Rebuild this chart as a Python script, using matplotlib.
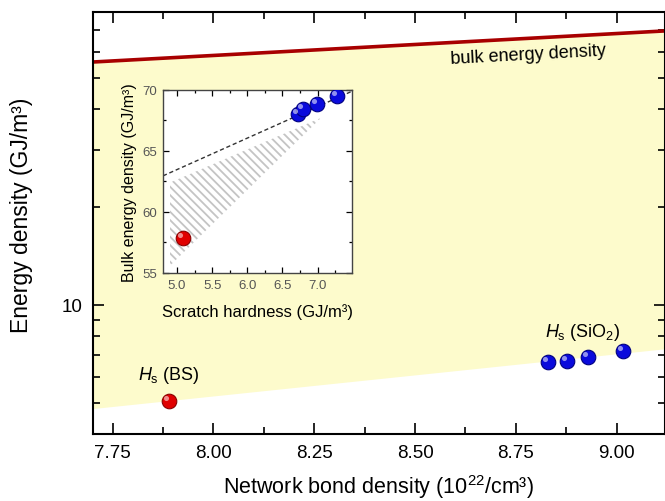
import matplotlib
matplotlib.use("Agg")
import matplotlib.pyplot as plt
import matplotlib.ticker as mticker
from matplotlib.transforms import offset_copy

plt.rcParams["font.family"] = ["Liberation Sans", "DejaVu Sans"]
plt.rcParams["mathtext.fontset"] = "custom"
plt.rcParams["mathtext.rm"] = "Liberation Sans"
plt.rcParams["mathtext.it"] = "Liberation Sans:italic"
plt.rcParams["hatch.linewidth"] = 1.3

# ------------- data ------------- #

# main panel: network bond density (1e22/cm^3) vs energy density (GJ/m^3)
bs_x = [7.89]
bs_y = [5.07]
sio2_x = [8.83, 8.876, 8.928, 9.015]
sio2_y = [6.68, 6.73, 6.92, 7.22]

bulk_x = [7.70, 9.12]
bulk_y = [55.9, 69.7]
lower_x = [7.70, 9.12]
lower_y = [4.79, 7.32]

# inset: scratch hardness vs bulk energy density
ins_bs_x = [5.08]
ins_bs_y = [57.9]
ins_sio2_x = [6.72, 6.79, 6.99, 7.28]
ins_sio2_y = [68.0, 68.4, 68.85, 69.5]
dash_x = [4.80, 7.5]
dash_y = [62.95, 69.9]
hatch_x = [4.90, 4.90, 7.05]
hatch_y = [62.4, 55.6, 67.7]

W, H = 665, 502
fig = plt.figure(figsize=(W / 100, H / 100), dpi=100)

# main axes, right spine sits on the image edge
ax = fig.add_axes([92.5 / W, 1 - 435 / H, (665 - 92.5) / W, (435 - 13) / H])
ax.set_yscale("log")
ax.set_xlim(7.70, 9.12)
ax.set_ylim(4.0, 79.7)

ax.fill_between(bulk_x, lower_y, bulk_y, color="#fdfbcc", lw=0, zorder=0)
ax.plot(bulk_x, bulk_y, color="#a80000", lw=2.6, zorder=2)


def sphere(a, xs, ys, color, edge, ms=10.5):
    a.plot(xs, ys, "o", ms=ms, color=color, mec=edge, mew=0.8, zorder=5)
    hl = offset_copy(a.transData, fig=fig, x=-2.2, y=2.2, units="points")
    a.plot(xs, ys, "o", ms=ms * 0.35, color="white", alpha=0.55,
           mew=0, transform=hl, zorder=6)


sphere(ax, bs_x, bs_y, "#e00000", "#8a0000")
sphere(ax, sio2_x, sio2_y, "#0a0adc", "#000080")

ax.text(8.78, 59.0, "bulk energy density", fontsize=13, rotation=3.1,
        ha="center", va="center")
ax.text(7.89, 6.1, r"$H_\mathrm{s}$ (BS)", fontsize=13, ha="center", va="center")
ax.text(8.916, 8.25, r"$H_\mathrm{s}$ (SiO$_2$)", fontsize=13, ha="center", va="center")

ax.xaxis.set_major_locator(mticker.MultipleLocator(0.25))
ax.xaxis.set_minor_locator(mticker.MultipleLocator(0.125))
ax.xaxis.set_major_formatter(mticker.FormatStrFormatter("%.2f"))
ax.yaxis.set_major_locator(mticker.LogLocator(base=10, numticks=10))
ax.yaxis.set_minor_locator(mticker.LogLocator(base=10, subs=range(2, 10), numticks=10))
ax.yaxis.set_major_formatter(mticker.FuncFormatter(lambda v, p: f"{v:g}"))
ax.yaxis.set_minor_formatter(mticker.NullFormatter())
ax.tick_params(which="both", direction="in", top=True, right=True, width=1.2,
               labelsize=13.5, pad=7)
ax.tick_params(which="major", length=8)
ax.tick_params(which="minor", length=5)
for s in ax.spines.values():
    s.set_linewidth(1.5)

ax.set_xlabel("Network bond density (10$^{22}$/cm³)", fontsize=15.5, labelpad=8)
ax.set_ylabel("Energy density (GJ/m³)", fontsize=16.5)
ax.yaxis.set_label_coords(-0.104, 0.52)

# ------------- inset ------------- #
ins = fig.add_axes([163 / W, 1 - 274 / H, (352 - 163) / W, (274 - 90.7) / H])
ins.set_facecolor("white")
ins.set_xlim(4.80, 7.49)
ins.set_ylim(55, 70)
ins.fill(hatch_x, hatch_y, facecolor="none", edgecolor="#c4c4c4", lw=0,
         hatch="\\\\\\\\", zorder=1)
ins.plot(dash_x, dash_y, ls=(0, (3, 2)), color="#333333", lw=1.0, zorder=2)
sphere(ins, ins_bs_x, ins_bs_y, "#e00000", "#8a0000")
sphere(ins, ins_sio2_x, ins_sio2_y, "#0a0adc", "#000080")

ins.xaxis.set_major_locator(mticker.MultipleLocator(0.5))
ins.xaxis.set_minor_locator(mticker.MultipleLocator(0.25))
ins.yaxis.set_major_locator(mticker.MultipleLocator(5))
ins.yaxis.set_minor_locator(mticker.MultipleLocator(2.5))
ins.xaxis.set_major_formatter(mticker.FormatStrFormatter("%.1f"))
ins.tick_params(which="both", direction="in", top=True, right=True, width=0.9,
                labelsize=9.5, labelcolor="#555555", pad=4)
ins.tick_params(which="major", length=4)
ins.tick_params(which="minor", length=2.5)
for s in ins.spines.values():
    s.set_linewidth(1.0)
    s.set_color("#444444")
ins.set_xlabel("Scratch hardness (GJ/m³)", fontsize=12, labelpad=9)
ins.set_ylabel("Bulk energy density (GJ/m³)", fontsize=11.5, labelpad=4)

fig.savefig("out.png", dpi=100)
